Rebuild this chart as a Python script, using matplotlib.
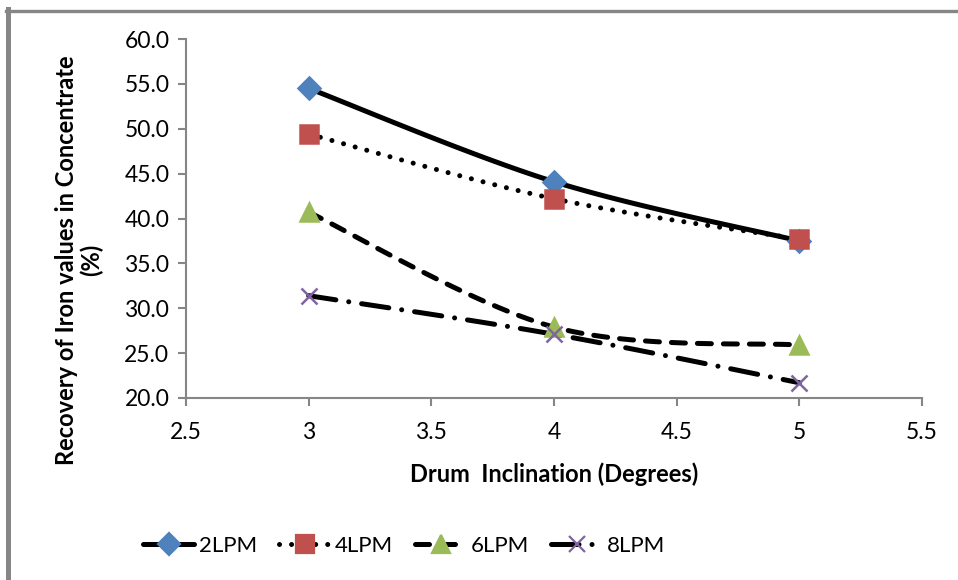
import numpy as np
import matplotlib
matplotlib.use("Agg")
import matplotlib.pyplot as plt
from matplotlib.lines import Line2D

plt.rcParams['font.family'] = ['Lato', 'DejaVu Sans']

inclination = [3, 4, 5]
series_names = ["2LPM", "4LPM", "6LPM", "8LPM"]
rec_2lpm = [54.5, 44.1, 37.5]
rec_4lpm = [49.4, 42.2, 37.7]
rec_6lpm = [40.7, 27.9, 25.9]
rec_8lpm = [31.4, 27.1, 21.7]
x_ticks = [2.5, 3, 3.5, 4, 4.5, 5, 5.5]
y_ticks = [20, 25, 30, 35, 40, 45, 50, 55, 60]

W, H = 958, 580
fig = plt.figure(figsize=(W / 100, H / 100), dpi=100)
ax = fig.add_axes([186 / W, 1 - 398 / H, (922 - 186) / W, (398 - 39) / H])
ax.set_xlim(2.5, 5.5)
ax.set_ylim(20, 60)

# pixel scale for Excel-like smoothing
sx = (922 - 186) / 3.0
sy = (398 - 39) / 40.0


def smooth(xs, ys, n=40):
    P = np.column_stack([np.asarray(xs, float) * sx, np.asarray(ys, float) * sy])
    out = []
    for i in range(len(P) - 1):
        p0 = P[i - 1] if i > 0 else P[i]
        p1 = P[i]
        p2 = P[i + 1]
        p3 = P[i + 2] if i + 2 < len(P) else P[i + 1]
        c1 = p1 + (p2 - p0) / 6.0
        c2 = p2 - (p3 - p1) / 6.0
        t = np.linspace(0, 1, n)[:, None]
        seg = ((1 - t) ** 3) * p1 + 3 * ((1 - t) ** 2) * t * c1 + 3 * (1 - t) * t ** 2 * c2 + t ** 3 * p2
        if i > 0:
            seg = seg[1:]
        out.append(seg)
    pts = np.vstack(out)
    return pts[:, 0] / sx, pts[:, 1] / sy


lw = 3.6
styles = [
    dict(ls='-', marker='D', color='#4F81BD', ms=11),
    dict(ls=(0, (0.01, 2.4)), marker='s', color='#C0504D', ms=13),
    dict(ls=(0, (2.8, 2.4)), marker='^', color='#9BBB59', ms=13),
    dict(ls=(0, (5.5, 2.6, 0.01, 2.6)), marker='x', color='#8064A2', ms=12),
]
data = [rec_2lpm, rec_4lpm, rec_6lpm, rec_8lpm]

handles = []
for name, ys, st in zip(series_names, data, styles):
    sxs, sys_ = smooth(inclination, ys)
    ax.plot(sxs, sys_, color='black', lw=lw, ls=st['ls'],
            dash_capstyle='round', solid_capstyle='round', zorder=2)
    ax.plot(inclination, ys, ls='none', marker=st['marker'], ms=st['ms'],
            mfc=st['color'], mec=st['color'], mew=1.8, zorder=3)
    handles.append(Line2D([], [], color='black', lw=lw, ls=st['ls'],
                          dash_capstyle='round', solid_capstyle='round',
                          marker=st['marker'], ms=st['ms'],
                          mfc=st['color'], mec=st['color'], mew=1.6))

ax.set_xticks(x_ticks)
ax.set_xticklabels([f"{v:g}" for v in x_ticks])
ax.set_yticks(y_ticks)
ax.set_yticklabels([f"{v:.1f}" for v in y_ticks])

grey = '#868686'
for s in ['top', 'right']:
    ax.spines[s].set_visible(False)
for s in ['left', 'bottom']:
    ax.spines[s].set_color(grey)
    ax.spines[s].set_linewidth(1.5)
ax.tick_params(axis='both', colors=grey, labelcolor='black', labelsize=16.5,
               length=6, width=1.5, direction='out')
ax.tick_params(axis='x', pad=11)
ax.tick_params(axis='y', pad=6)

ax.set_xlabel("Drum  Inclination (Degrees)", fontsize=17, fontweight='bold', labelpad=14)
fig.text(79 / W, 1 - 260 / H, "Recovery of Iron values in Concentrate\n(%)",
         rotation=90, ha='center', va='center', fontsize=17, fontweight='bold',
         multialignment='center', linespacing=1.1)

fig.legend(handles=handles, labels=series_names, loc='center',
           bbox_to_anchor=(404 / W, 1 - 546 / H), ncol=4, frameon=False,
           fontsize=16, handlelength=2.3, columnspacing=1.0, handletextpad=0.2)

# outer chart border (partially cropped)
fig.add_artist(Line2D([7.5 / W, 7.5 / W], [0, 1 - 9 / H], color=grey, lw=3.6,
                      transform=fig.transFigure))
fig.add_artist(Line2D([5.5 / W, 1], [1 - 10.5 / H, 1 - 10.5 / H], color=grey, lw=2.4,
                      transform=fig.transFigure))

fig.savefig("out.png", dpi=100)
